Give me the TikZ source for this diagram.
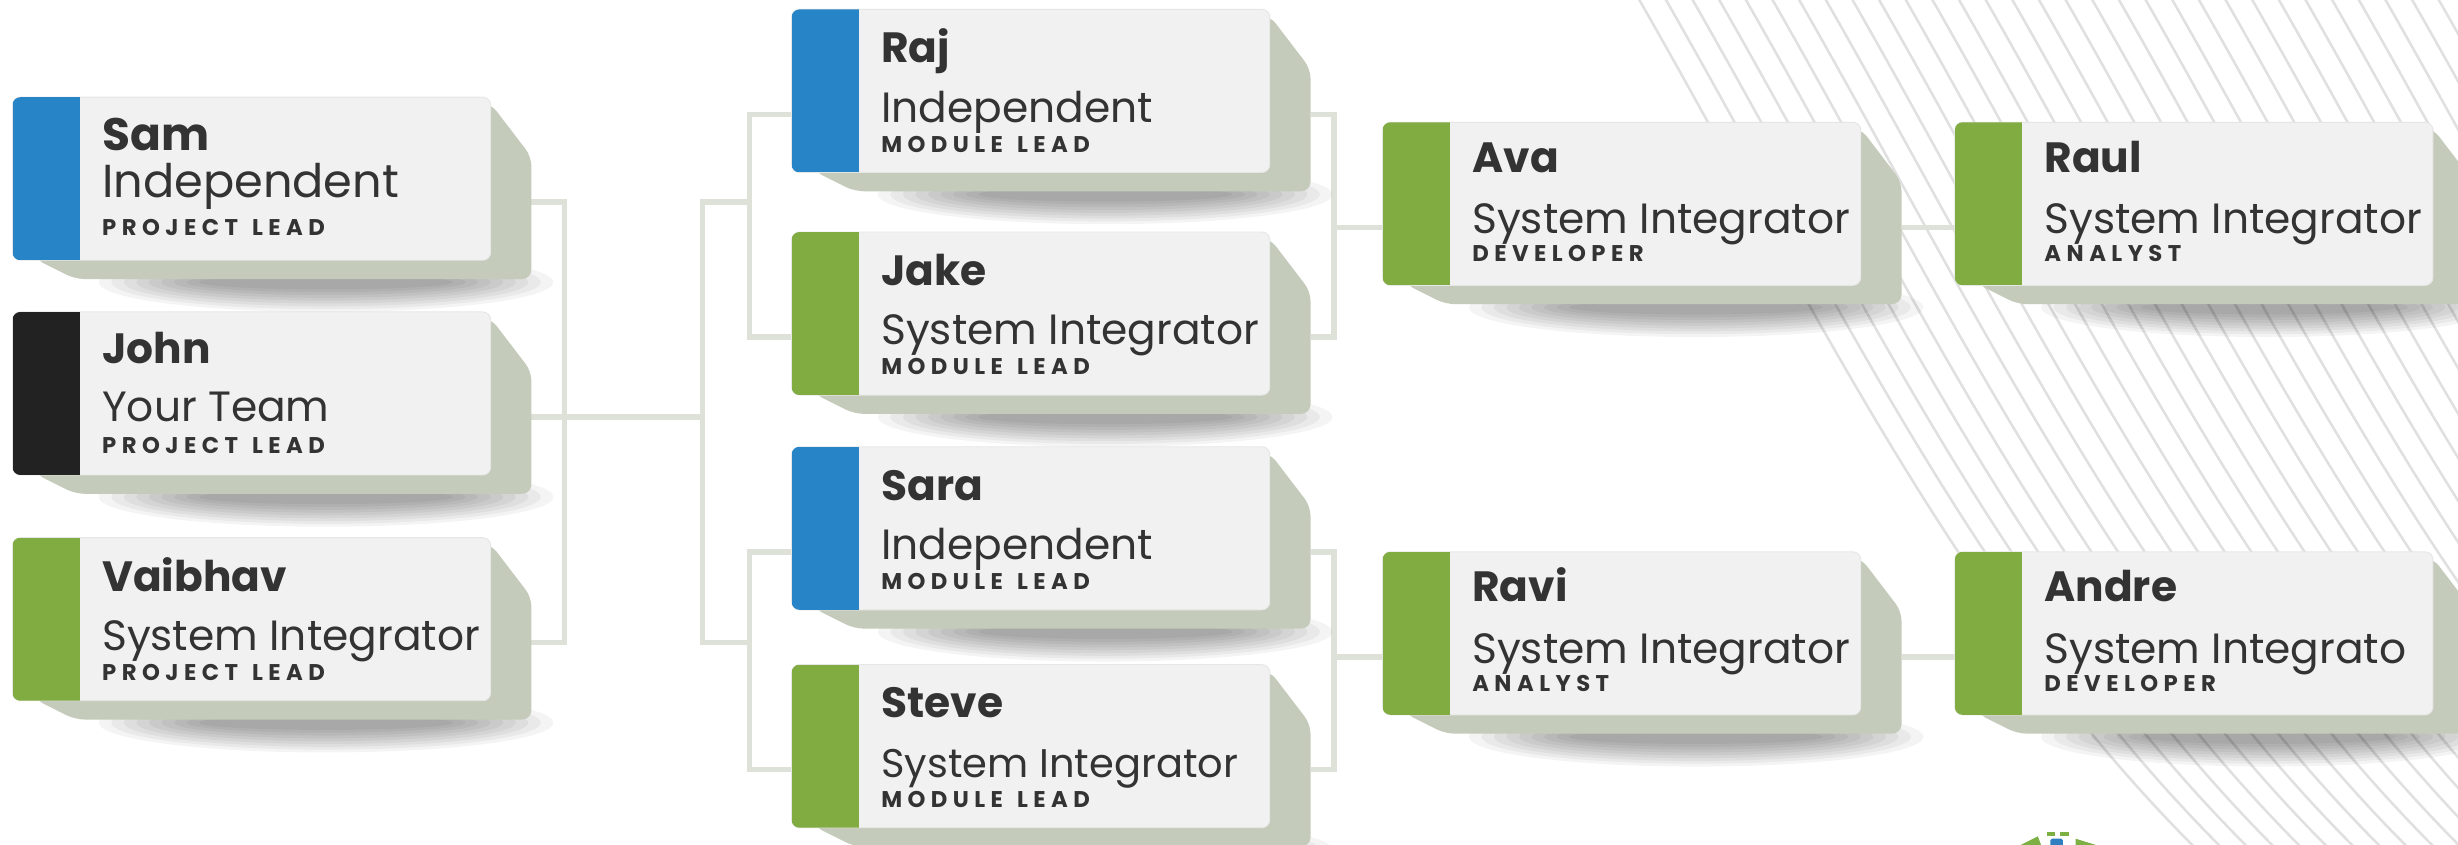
\documentclass[tikz,border=0pt]{standalone}
\usepackage{fontspec}
\setmainfont{Poppins}
\newfontfamily\subfont[LetterSpace=24]{Poppins}
\usetikzlibrary{calc}
\pgfdeclarelayer{bg}
\pgfsetlayers{bg,main}
\definecolor{barblue}{HTML}{2784C7}
\definecolor{bargreen}{HTML}{80AC41}
\definecolor{barblack}{HTML}{222222}
\definecolor{cardfill}{HTML}{F1F1F1}
\definecolor{cardline}{HTML}{E6E6E6}
\definecolor{extrc}{HTML}{C4CBBA}
\definecolor{connc}{HTML}{DEE1D8}
\definecolor{stripec}{HTML}{E0E0E0}
\definecolor{txt}{HTML}{333333}
\definecolor{logogreen}{HTML}{7DB043}
\definecolor{logoblue}{HTML}{2F7FC1}
\tikzset{
  cardbody/.style={rectangle, rounded corners=5pt, fill=cardfill, draw=cardline,
    line width=0.6pt, minimum width=305pt, minimum height=104pt, inner sep=0pt, outer sep=0pt},
  extr/.style={fill=extrc, rounded corners=6pt},
  conn/.style={draw=connc, line width=3.5pt},
  stripe/.style={draw=stripec, line width=1.6pt},
  txtbase/.style={anchor=base west, inner sep=0pt, text=txt},
}
\newcommand\cardNB{33}
\newcommand\cardRB{72}
\newcommand\cardSB{91}
\newcommand\wsp{\kern9pt\relax}
% #1 id, #2 left, #3 top, #4 bar colour, #5 name, #6 role, #7 subtitle, #8 role size, #9 name size
\newcommand\orgcard[9]{%
\begin{scope}[shift={(#2,#3)}]
  \foreach \i in {0,...,8}{\fill[black,opacity=0.045] (200,118) ellipse ({145-8*\i} and {19-1.8*\i});}
  \fill[extr] (290,4) -- (305,4) -- (331,38) -- (331,116) -- (40,116) -- (14,103) -- (14,90) -- cycle;
  \node[cardbody,anchor=north west] (#1) at (0,0) {};
  \begin{scope}
    \clip[rounded corners=5pt] (0,0) rectangle (305,104);
    \fill[#4] (0,0) rectangle (43,104);
  \end{scope}
  \node[txtbase, font=\bfseries\fontsize{#9}{#9}\selectfont] (#1-n) at (57,\cardNB) {#5};
  \node[txtbase, font=\fontsize{#8}{#8}\selectfont] (#1-o) at (57,\cardRB) {#6};
  \node[txtbase, font=\subfont\bfseries\fontsize{14.5}{14.5}\selectfont] (#1-s) at (57,\cardSB) {#7};
  \coordinate (#1-l) at (0,67);
  \coordinate (#1-r) at (331,67);
\end{scope}}
\begin{document}
\begin{tikzpicture}[x=1pt,y=-1pt]
\useasboundingbox (0,0) rectangle (1568,539);
% cards
\renewcommand\cardNB{34}\renewcommand\cardRB{64}\renewcommand\cardSB{88}
\orgcard{sam}{8}{62}{barblue}{Sam}{Independent}{PROJECT\wsp LEAD}{29.5}{29}
\renewcommand\cardNB{33}\renewcommand\cardRB{70}\renewcommand\cardSB{90}
\orgcard{john}{8}{199}{barblack}{John}{Your Team}{PROJECT\wsp LEAD}{27}{27}
\renewcommand\cardNB{34}\renewcommand\cardRB{72}\renewcommand\cardSB{91}
\orgcard{vai}{8}{343}{bargreen}{Vaibhav}{System Integrator}{PROJECT\wsp LEAD}{27}{27}
\orgcard{raj}{505}{6}{barblue}{Raj}{Independent}{MODULE\wsp LEAD}{27}{27}
\orgcard{jake}{505}{148}{bargreen}{Jake}{System Integrator}{MODULE\wsp LEAD}{27}{27}
\orgcard{sara}{505}{285}{barblue}{Sara}{Independent}{MODULE\wsp LEAD}{27}{27}
\orgcard{steve}{505}{424}{bargreen}{Steve}{System Integrator}{MODULE\wsp LEAD}{25.5}{27}
\renewcommand\cardNB{32}\renewcommand\cardRB{71}\renewcommand\cardSB{89}
\orgcard{ava}{882}{78}{bargreen}{Ava}{System Integrator}{DEVELOPER}{27}{27}
\orgcard{ravi}{882}{352}{bargreen}{Ravi}{System Integrator}{ANALYST}{27}{27}
\orgcard{raul}{1247}{78}{bargreen}{Raul}{System Integrator}{ANALYST}{27}{27}
\orgcard{andre}{1247}{352}{bargreen}{Andre}{System Integrato}{DEVELOPER}{27}{27}
% connectors
\coordinate (ja) at (360,0);
\coordinate (jb) at (448,0);
\coordinate (jc) at (478,0);
\coordinate (jd) at (851,0);
\begin{pgfonlayer}{bg}
  \fill[white] (0,0) rectangle (1568,539);
  \begin{scope}
    \clip (0,0) rectangle (1568,539);
    \foreach \k in {0,...,33}{
      \pgfmathsetmacro\xx{1040+17*\k}
      \draw[stripe] (\xx,-10) .. controls (\xx+110,180) and (\xx+210,400) .. (\xx+380,560);
    }
  \end{scope}
  \draw[conn] (sam-r) -| (ja |- vai-r) -- (vai-r);
  \draw[conn] (john-r) -- (jb |- john-r);
  \draw[conn] (jc |- sam-r) -| (jb |- vai-r) -- (jc |- vai-r);
  \draw[conn] (raj-l) -| (jc |- jake-l) -- (jake-l);
  \draw[conn] (sara-l) -| (jc |- steve-l) -- (steve-l);
  \draw[conn] (raj-r) -| (jd |- jake-r) -- (jake-r);
  \draw[conn] (jd |- ava-l) -- (ava-l);
  \draw[conn] (sara-r) -| (jd |- steve-r) -- (steve-r);
  \draw[conn] (jd |- ravi-l) -- (ravi-l);
  \draw[conn] (ava-r) -- (raul-l);
  \draw[conn] (ravi-r) -- (andre-l);
\end{pgfonlayer}
% partial logo at the bottom edge
\fill[logogreen] (1306,531) rectangle (1311,533.5);
\fill[logogreen] (1314,530.5) rectangle (1320,533);
\fill[logogreen] (1289,539) -- (1300,533.5) -- (1302,539) -- cycle;
\fill[logoblue, rounded corners=1pt] (1308,535) rectangle (1316,542);
\fill[logogreen] (1324,535) -- (1337,539) -- (1324,539) -- cycle;
\end{tikzpicture}
\end{document}
